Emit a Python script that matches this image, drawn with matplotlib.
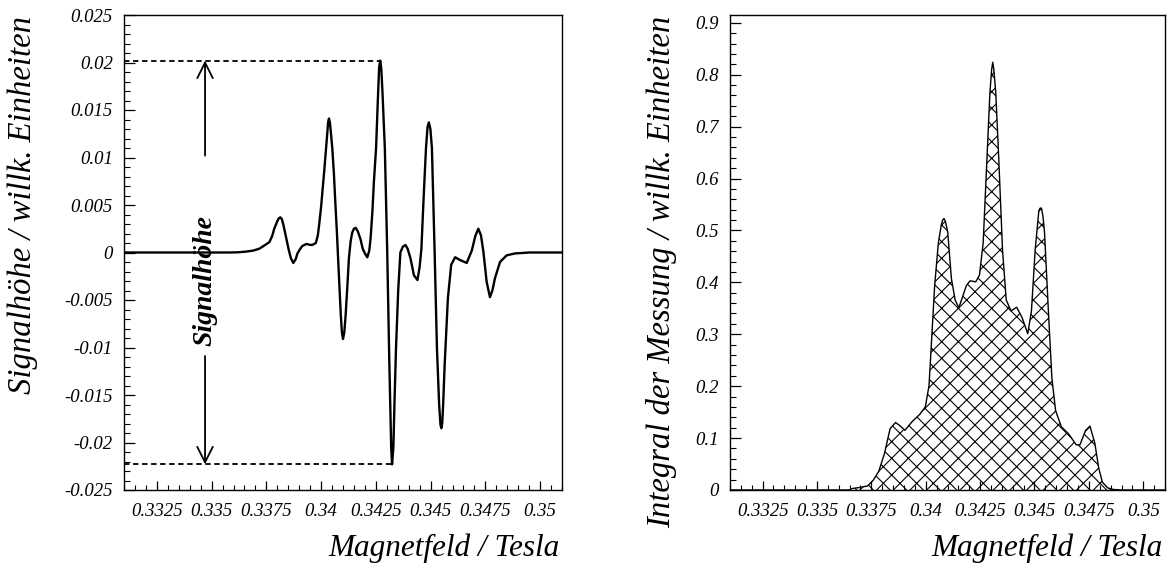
import matplotlib
matplotlib.use("Agg")
import matplotlib.pyplot as plt
from matplotlib.ticker import MultipleLocator, FixedLocator, FixedFormatter

plt.rcParams['font.family'] = ['Liberation Serif', 'DejaVu Serif']
plt.rcParams['hatch.linewidth'] = 0.8

# ---------------- data: derivative signal (left) ----------------
field_signal = [0.3310, 0.3340, 0.3358, 0.3362, 0.3366, 0.3369, 0.33718, 0.33745,
                0.33764, 0.33776, 0.33786, 0.33800, 0.33807, 0.33814, 0.33821, 0.33828,
                0.33840, 0.33852,
                0.33862, 0.33873, 0.33884, 0.33892, 0.33905, 0.33915, 0.33933, 0.33950,
                0.33960, 0.33976, 0.33985, 0.33991, 0.34000, 0.34006, 0.34014, 0.34021,
                0.34028, 0.34032, 0.34036, 0.34040, 0.34044, 0.34051, 0.34058, 0.34064,
                0.34072, 0.34079,
                0.34085, 0.34090, 0.34095, 0.34100, 0.34106, 0.34112, 0.34120, 0.34127,
                0.34135, 0.34142, 0.34150, 0.34158, 0.34168, 0.34180, 0.34190, 0.34200,
                0.34211, 0.34220, 0.34226, 0.34234, 0.34241, 0.34251, 0.34259, 0.34265,
                0.34270, 0.34275,
                0.34280, 0.34291, 0.34302, 0.34311, 0.34320, 0.34324, 0.34330, 0.34336,
                0.34342, 0.34352, 0.34362, 0.34373, 0.34385, 0.34395, 0.34408, 0.34424,
                0.34440, 0.34450, 0.34458, 0.34468, 0.34479, 0.34486, 0.34492, 0.34499,
                0.34506, 0.34518, 0.34529, 0.34539, 0.34545, 0.34549, 0.34553, 0.34557,
                0.34564, 0.34579,
                0.34594, 0.34612, 0.34635, 0.34665, 0.34688, 0.34705, 0.34718, 0.34730,
                0.34741, 0.34756, 0.34771, 0.34782, 0.34794, 0.34817, 0.34847, 0.34885,
                0.3495, 0.3510]
signal = [0.0, 0.0, 0.0, 0.00002, 0.0001, 0.0002, 0.0004, 0.0008,
          0.0011, 0.0017, 0.0025, 0.0033, 0.0036, 0.0037, 0.0035, 0.0029,
          0.0016, 0.0003,
          -0.0006, -0.0011, -0.0007, -0.0001, 0.0004, 0.0007, 0.0009, 0.0008,
          0.0008, 0.0010, 0.0018, 0.0029, 0.0048, 0.0064, 0.0085, 0.0105,
          0.0125, 0.0137, 0.0141, 0.0137, 0.0128, 0.0110, 0.0085, 0.0057,
          0.0022, -0.0013,
          -0.0042, -0.0066, -0.0084, -0.0091, -0.0084, -0.0066, -0.0035, -0.0006,
          0.0012, 0.0021, 0.0025, 0.0026, 0.0022, 0.0014, 0.0004, -0.0001,
          -0.0005, 0.0002, 0.0015, 0.0042, 0.0074, 0.0110, 0.0160, 0.0195,
          0.0202, 0.0193,
          0.0170, 0.0110, 0.0000, -0.0110, -0.0205, -0.0223, -0.0205, -0.0150,
          -0.0101, -0.0040, 0.0000, 0.0006, 0.0008, 0.0004, -0.0006, -0.0024,
          -0.0029, -0.0015, 0.0004, 0.0057, 0.0110, 0.0132, 0.0137, 0.0130,
          0.0110, 0.0004, -0.0101, -0.0160, -0.0181, -0.0185, -0.0180, -0.0162,
          -0.0119, -0.0048,
          -0.0013, -0.0005, -0.0008, -0.0011, 0.0002, 0.0018, 0.0025, 0.0018,
          0.0001, -0.0031, -0.0047, -0.0040, -0.0027, -0.0010, -0.0003, -0.0001,
          0.0, 0.0]

# ---------------- data: integral (right) ----------------
field_integral = [0.3310, 0.3360, 0.33647, 0.33664, 0.33699, 0.33733, 0.33759, 0.33784,
                  0.33810, 0.33836, 0.33861, 0.33878, 0.33904, 0.33938, 0.33973, 0.33998,
                  0.34015, 0.34027, 0.34041, 0.34058, 0.34072, 0.34078, 0.34084, 0.34090,
                  0.34101, 0.34118,
                  0.34135, 0.34152, 0.34170, 0.34187, 0.34204, 0.34230, 0.34247, 0.34264,
                  0.34281, 0.34295, 0.34303, 0.34308, 0.34313, 0.34322, 0.34336, 0.34353,
                  0.34370, 0.34392,
                  0.34418, 0.34443, 0.34469, 0.34486, 0.34503, 0.34520, 0.34526, 0.34532,
                  0.34539, 0.34546,
                  0.34563, 0.34580, 0.34597, 0.34623, 0.34657, 0.34692, 0.34709, 0.34735,
                  0.34755, 0.34777, 0.34795, 0.34812, 0.34837, 0.34863, 0.3490, 0.3510]
integral = [0.0, 0.0, 0.0, 0.003, 0.005, 0.008, 0.019, 0.036,
            0.070, 0.118, 0.130, 0.125, 0.115, 0.132, 0.146, 0.160,
            0.201, 0.290, 0.394, 0.476, 0.512, 0.520, 0.523, 0.518,
            0.497, 0.407,
            0.366, 0.351, 0.373, 0.394, 0.403, 0.401, 0.414, 0.476,
            0.635, 0.765, 0.810, 0.824, 0.810, 0.765, 0.635, 0.462,
            0.366, 0.345,
            0.352, 0.332, 0.301, 0.345, 0.462, 0.538, 0.543, 0.543,
            0.527, 0.497,
            0.352, 0.215, 0.153, 0.122, 0.108, 0.087, 0.087, 0.115,
            0.123, 0.091, 0.043, 0.015, 0.004, 0.001, 0.0, 0.0]

# ---------------- ticks / labels ----------------
x_ticks = [0.3325, 0.335, 0.3375, 0.34, 0.3425, 0.345, 0.3475, 0.35]
x_tick_labels = ['0.3325', '0.335', '0.3375', '0.34', '0.3425', '0.345', '0.3475', '0.35']
left_y_ticks = [-0.025, -0.02, -0.015, -0.01, -0.005, 0.0, 0.005, 0.01, 0.015, 0.02, 0.025]
left_y_labels = ['-0.025', '-0.02', '-0.015', '-0.01', '-0.005', '0', '0.005', '0.01',
                 '0.015', '0.02', '0.025']
right_y_ticks = [0.0, 0.1, 0.2, 0.3, 0.4, 0.5, 0.6, 0.7, 0.8, 0.9]
right_y_labels = ['0', '0.1', '0.2', '0.3', '0.4', '0.5', '0.6', '0.7', '0.8', '0.9']

signal_max = 0.0202
signal_min = -0.0223
field_max = 0.34270
field_min = 0.34324
arrow_field = 0.3347
arrow_up_start = 0.0102
arrow_down_start = -0.0109

x_label = 'Magnetfeld / Tesla'
left_y_label = 'Signalhöhe / willk. Einheiten'
right_y_label = 'Integral der Messung / willk. Einheiten'
annotation = 'Signalhöhe'

W, H = 1176, 563
fig = plt.figure(figsize=(W / 100, H / 100), dpi=100)

def px_rect(x0, y0, x1, y1):
    return [x0 / W, 1 - y1 / H, (x1 - x0) / W, (y1 - y0) / H]

axL = fig.add_axes(px_rect(124, 15, 562, 490))
axR = fig.add_axes(px_rect(730, 15, 1165, 490))

def style(ax, yticks, ylabels, yminor):
    ax.set_xlim(0.3310, 0.3510)
    ax.xaxis.set_major_locator(FixedLocator(x_ticks))
    ax.xaxis.set_major_formatter(FixedFormatter(x_tick_labels))
    ax.xaxis.set_minor_locator(MultipleLocator(0.0005))
    ax.yaxis.set_major_locator(FixedLocator(yticks))
    ax.yaxis.set_major_formatter(FixedFormatter(ylabels))
    ax.yaxis.set_minor_locator(MultipleLocator(yminor))
    ax.tick_params(axis='x', which='major', direction='in', length=6.5, width=0.9,
                   pad=9, labelsize=13.5)
    ax.tick_params(axis='x', which='minor', direction='in', length=3.3, width=0.8)
    ax.tick_params(axis='y', which='major', direction='in', length=8, width=0.9,
                   pad=8, labelsize=13.5)
    ax.tick_params(axis='y', which='minor', direction='in', length=4, width=0.8)
    for lab in ax.get_xticklabels() + ax.get_yticklabels():
        lab.set_fontstyle('italic')
    for sp in ax.spines.values():
        sp.set_linewidth(1.0)

# left plot
axL.plot(field_signal, signal, color='black', lw=1.7)
axL.set_ylim(-0.025, 0.025)
style(axL, left_y_ticks, left_y_labels, 0.001)
axL.plot([0.3310, field_max], [signal_max, signal_max], color='black', lw=1.3,
         ls=(0, (3, 2)))
axL.plot([0.3310, field_min], [signal_min, signal_min], color='black', lw=1.3,
         ls=(0, (3, 2)))
axL.annotate('', xy=(arrow_field, signal_max), xytext=(arrow_field, arrow_up_start),
             arrowprops=dict(arrowstyle='->', lw=1.3, color='black', mutation_scale=28,
                             shrinkA=0, shrinkB=0))
axL.annotate('', xy=(arrow_field, signal_min), xytext=(arrow_field, arrow_down_start),
             arrowprops=dict(arrowstyle='->', lw=1.3, color='black', mutation_scale=28,
                             shrinkA=0, shrinkB=0))
axL.text(arrow_field, -0.003, annotation, rotation=90, ha='center', va='center',
         fontsize=20, fontweight='bold', fontstyle='italic')

# right plot
axR.fill_between(field_integral, integral, 0, facecolor='white', edgecolor='black',
                 hatch='xx', linewidth=0)
axR.plot(field_integral, integral, color='black', lw=1.0)
axR.set_ylim(0, 0.915)
style(axR, right_y_ticks, right_y_labels, 0.02)

# axis titles
fig.text(560 / W, 1 - 548 / H, x_label, ha='right', va='center', fontsize=22.5,
         fontstyle='italic')
fig.text(1163 / W, 1 - 548 / H, x_label, ha='right', va='center', fontsize=22.5,
         fontstyle='italic')
fig.text(23 / W, 1 - 16 / H, left_y_label, rotation=90, ha='center', va='top',
         fontsize=23.5, fontstyle='italic')
fig.text(662 / W, 1 - 16 / H, right_y_label, rotation=90, ha='center', va='top',
         fontsize=23.5, fontstyle='italic')

fig.savefig('out.png', dpi=100)
